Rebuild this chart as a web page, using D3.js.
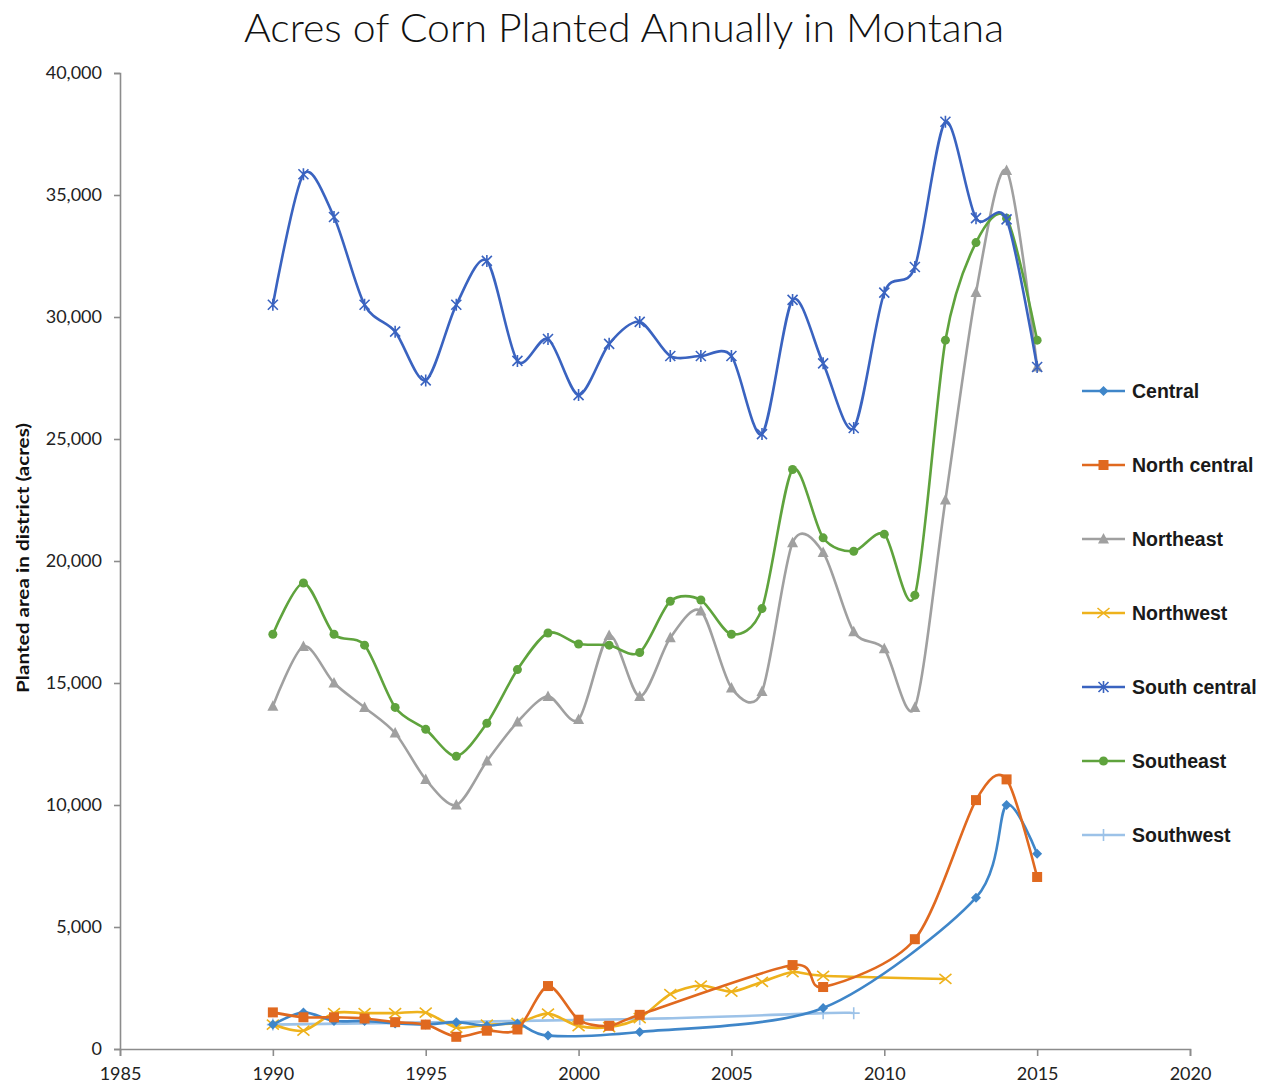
<!DOCTYPE html>
<html><head><meta charset="utf-8">
<script src="https://cdn.jsdelivr.net/npm/d3@7"></script>
<style>body{margin:0;background:#fff}</style>
</head><body>
<svg id="c" width="1267" height="1089"></svg>
<script>
const years = [1990,1991,1992,1993,1994,1995,1996,1997,1998,1999,2000,2001,2002,2003,2004,2005,2006,2007,2008,2009,2010,2011,2012,2013,2014,2015];
const central      = [1000,1500,1150,1150,1050,1000,1100,950,1050,550,null,null,700,null,null,null,null,null,1680,null,null,null,null,6200,10000,8000];
const northCentral = [1500,1300,1300,1250,1100,1000,500,750,800,2580,1200,950,1400,null,null,null,null,3440,2540,null,null,4500,null,10200,11050,7050];
const northeast    = [14050,16500,15000,14000,12950,11050,10000,11800,13400,14450,13500,16950,14450,16850,17950,14800,14650,20750,20350,17100,16400,14000,22500,31000,36000,27950];
const northwest    = [1000,750,1470,1470,1470,1490,880,1000,1070,1450,940,900,1270,2250,2600,2350,2750,3150,3000,null,null,null,2870,null,null,null];
const southCentral = [30500,35850,34100,30500,29400,27400,30500,32300,28200,29100,26800,28900,29800,28400,28400,28400,25200,30700,28100,25450,31000,32050,38000,34050,34000,27950];
const southeast    = [17000,19100,17000,16550,14000,13100,12000,13350,15550,17050,16600,16550,16250,18350,18400,17000,18050,23750,20950,20400,21100,18600,29050,33050,34050,29050];
const southwest    = [1000,null,null,null,null,null,null,null,null,null,null,null,1230,null,null,null,null,null,1470,1470,null,null,null,null,null,null];
const seriesNames = ["Central","North central","Northeast","Northwest","South central","Southeast","Southwest"];
const xTicks = [1985,1990,1995,2000,2005,2010,2015,2020];
const yTicks = [0,5000,10000,15000,20000,25000,30000,35000,40000];

const seriesData = [central,northCentral,northeast,northwest,southCentral,southeast,southwest];
const colors = ["#3f86c9","#e0691f","#a0a0a0","#eeb21c","#3a63c0","#5fa33d","#9cc2e8"];
const markers = ["diamond","square","triangle","x","star","circle","plus"];

const svg = d3.select("#c");
const x = d3.scaleLinear().domain([1985,2020]).range([120,1190]);
const y = d3.scaleLinear().domain([0,40000]).range([1049,73]);

svg.append("text").attr("x",624).attr("y",42).attr("text-anchor","middle")
  .attr("textLength",760).attr("lengthAdjust","spacingAndGlyphs")
  .style("font-family","Lato, 'Open Sans', sans-serif").style("font-weight",300)
  .style("font-size","39px").attr("fill","#111").text("Acres of Corn Planted Annually in Montana");

const tickFont = "Lato,'Open Sans',sans-serif";
const gy = svg.append("g").attr("transform","translate(120,0)")
  .call(d3.axisLeft(y).tickValues(yTicks).tickSize(6).tickPadding(12).tickFormat(d3.format(",")));
const gx = svg.append("g").attr("transform","translate(0,1049)")
  .call(d3.axisBottom(x).tickValues(xTicks).tickSize(7).tickPadding(11).tickFormat(d3.format("d")));
[gx,gy].forEach(g=>{
  g.select(".domain").attr("stroke","#8c8c8c").attr("stroke-width",1.6);
  g.selectAll(".tick line").attr("stroke","#8c8c8c").attr("stroke-width",1.6);
  g.selectAll(".tick text").attr("fill","#222").style("font-family",tickFont).style("font-size","18px");
});

svg.append("text").attr("transform","translate(29,558) rotate(-90)").attr("text-anchor","middle")
  .attr("textLength",270).attr("lengthAdjust","spacingAndGlyphs")
  .style("font-family",tickFont).style("font-weight","bold").style("font-size","17px").attr("fill","#111")
  .text("Planted area in district (acres)");

function drawMarker(g, type, cx, cy, color){
  const s = 5;
  if(type==="diamond") g.append("path").attr("d",`M${cx},${cy-s}L${cx+s},${cy}L${cx},${cy+s}L${cx-s},${cy}Z`).attr("fill",color);
  else if(type==="square") g.append("rect").attr("x",cx-5).attr("y",cy-5).attr("width",10).attr("height",10).attr("fill",color);
  else if(type==="triangle") g.append("path").attr("d",`M${cx},${cy-6}L${cx+5.5},${cy+4.5}L${cx-5.5},${cy+4.5}Z`).attr("fill",color);
  else if(type==="circle") g.append("circle").attr("cx",cx).attr("cy",cy).attr("r",4.5).attr("fill",color);
  else if(type==="x") g.append("path").attr("d",`M${cx-6},${cy-5}L${cx+6},${cy+5}M${cx-6},${cy+5}L${cx+6},${cy-5}`).attr("stroke",color).attr("stroke-width",1.6).attr("fill","none");
  else if(type==="star") g.append("path").attr("d",`M${cx-5},${cy-5}L${cx+5},${cy+5}M${cx-5},${cy+5}L${cx+5},${cy-5}M${cx},${cy-6}L${cx},${cy+6}`).attr("stroke",color).attr("stroke-width",1.6).attr("fill","none");
  else if(type==="plus") g.append("path").attr("d",`M${cx-6},${cy}L${cx+6},${cy}M${cx},${cy-6}L${cx},${cy+6}`).attr("stroke",color).attr("stroke-width",1.6).attr("fill","none");
}

const line = d3.line().x(d=>x(d[0])).y(d=>y(d[1])).curve(d3.curveCardinal.tension(0.15));
const order = [6,2,5,4,3,0,1];
order.forEach(i=>{
  const pts = years.map((yr,j)=>[yr,seriesData[i][j]]).filter(d=>d[1]!==null);
  const g = svg.append("g");
  g.append("path").attr("d",line(pts)).attr("fill","none").attr("stroke",colors[i]).attr("stroke-width",2.6);
  pts.forEach(p=>drawMarker(g,markers[i],x(p[0]),y(p[1]),colors[i]));
});

const leg = svg.append("g");
seriesNames.forEach((n,i)=>{
  const ly = 391 + i*74;
  leg.append("line").attr("x1",1082).attr("x2",1125).attr("y1",ly).attr("y2",ly).attr("stroke",colors[i]).attr("stroke-width",2.6);
  drawMarker(leg,markers[i],1103.5,ly,colors[i]);
  leg.append("text").attr("x",1132).attr("y",ly+7).style("font-family","'Liberation Sans',Arial,sans-serif").style("font-weight","bold")
    .style("font-size","19.5px").attr("fill","#1a1a1a").text(n);
});
</script>
</body></html>
